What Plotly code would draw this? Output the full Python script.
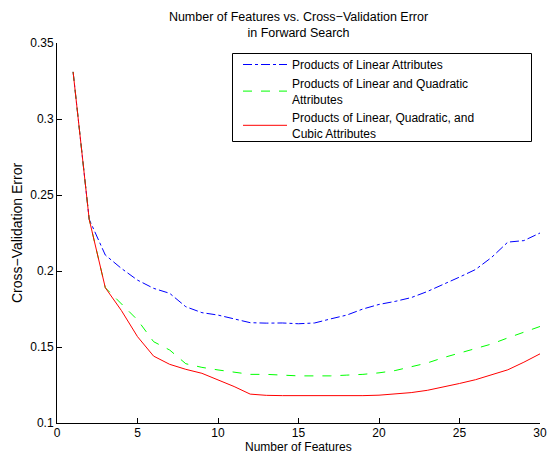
import plotly.graph_objects as go

features = list(range(1, 31))

err_linear = [0.331, 0.234, 0.2105, 0.2017, 0.194, 0.1886, 0.1853, 0.1765, 0.1726, 0.171,
              0.1685, 0.166, 0.1657, 0.1658, 0.1653, 0.1658, 0.1685, 0.171, 0.175, 0.178,
              0.18, 0.1825, 0.1865, 0.191, 0.196, 0.201, 0.209, 0.219, 0.220, 0.225]

err_lin_quad = [0.331, 0.234, 0.189, 0.1787, 0.1678, 0.1535, 0.148, 0.139, 0.1366, 0.1349,
                0.1335, 0.132, 0.132, 0.1315, 0.131, 0.131, 0.131, 0.1315, 0.132, 0.133,
                0.1345, 0.137, 0.1395, 0.143, 0.146, 0.149, 0.152, 0.156, 0.160, 0.1635]

err_lin_quad_cub = [0.331, 0.234, 0.189, 0.174, 0.1568, 0.144, 0.1386, 0.1353, 0.1327, 0.1283,
                    0.124, 0.119, 0.1182, 0.118, 0.118, 0.1179, 0.1178, 0.1178, 0.118, 0.1183,
                    0.119, 0.120, 0.1215, 0.1235, 0.126, 0.1285, 0.1315, 0.135, 0.140, 0.1455]

names = ["Products of Linear Attributes",
         "Products of Linear and Quadratic<br>Attributes",
         "Products of Linear, Quadratic, and<br>Cubic Attributes"]

FONT = "Liberation Sans, Arial, Helvetica, sans-serif"
FS = 12

fig = go.Figure()
fig.add_trace(go.Scatter(x=features, y=err_linear, mode="lines", name=names[0],
                         line=dict(color="rgb(0,0,255)", width=1, dash="dashdot")))
fig.add_trace(go.Scatter(x=features, y=err_lin_quad, mode="lines", name=names[1],
                         line=dict(color="rgb(0,255,0)", width=1, dash="dash")))
fig.add_trace(go.Scatter(x=features, y=err_lin_quad_cub, mode="lines", name=names[2],
                         line=dict(color="rgb(255,0,0)", width=1)))

fig.update_layout(
    width=547, height=454,
    margin=dict(l=57, r=7, t=43, b=31, autoexpand=False),
    paper_bgcolor="white", plot_bgcolor="white",
    font=dict(family=FONT, size=FS, color="black"),
    title=dict(text="Number of Features vs. Cross\u2212Validation Error<br>in Forward Search",
               x=(57 + 540) / 2 / 547, xanchor="center",
               y=1 - 21 / 454, yanchor="middle", yref="container",
               font=dict(family=FONT, size=12.5, color="black")),
    showlegend=True,
    legend=dict(x=(238 - 57) / 483, y=(423 - 50) / 380, xanchor="left", yanchor="top",
                bgcolor="rgba(0,0,0,0)", borderwidth=0,
                font=dict(family=FONT, size=FS, color="black"),
                itemwidth=44, tracegroupgap=1),
)
fig.add_shape(type="rect", xref="paper", yref="paper",
              x0=(232.5 - 57) / 483, x1=(531.5 - 57) / 483,
              y0=(423 - 141.5) / 380, y1=(423 - 53.5) / 380,
              line=dict(color="black", width=1), fillcolor="rgba(0,0,0,0)", layer="above")
fig.add_annotation(text="Number of Features", xref="paper", yref="paper",
                   x=0.5, y=-(447 - 423) / 380, xanchor="center", yanchor="middle",
                   showarrow=False, font=dict(family=FONT, size=FS, color="black"))

fig.update_xaxes(range=[0, 30], tickvals=[0, 5, 10, 15, 20, 25, 30], automargin=False,
                 showline=True, linecolor="black", linewidth=1, mirror=False,
                 ticks="inside", ticklen=5, tickcolor="black", showgrid=False, zeroline=False,
                 ticklabelstandoff=-1,
                 tickfont=dict(family=FONT, size=FS, color="black"))
fig.update_yaxes(range=[0.1, 0.35], tickvals=[0.1, 0.15, 0.2, 0.25, 0.3, 0.35], automargin=False,
                 ticktext=["0.1", "0.15", "0.2", "0.25", "0.3", "0.35"],
                 showline=True, linecolor="black", linewidth=1, mirror=False,
                 ticks="inside", ticklen=5, tickcolor="black", showgrid=False, zeroline=False,
                 title=dict(text="Cross\u2212Validation Error", standoff=4),
                 tickfont=dict(family=FONT, size=FS, color="black"))

fig.write_html("out.html")
